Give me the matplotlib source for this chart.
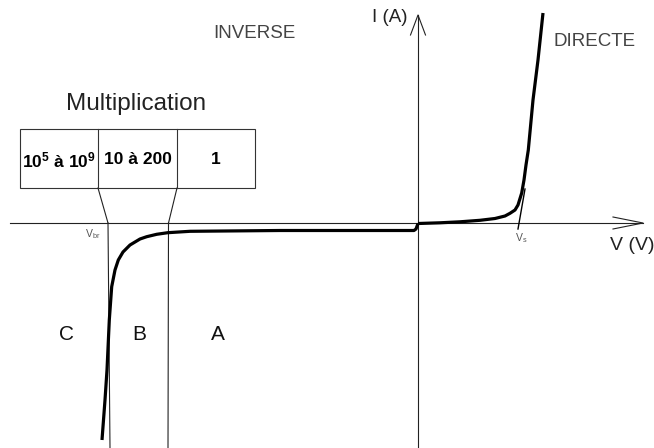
import matplotlib
matplotlib.use("Agg")
import matplotlib.pyplot as plt
from matplotlib.patches import Rectangle

plt.rcParams["font.family"] = ["Liberation Sans", "DejaVu Sans"]
plt.rcParams["mathtext.fontset"] = "custom"
plt.rcParams["mathtext.rm"] = "Liberation Sans"
plt.rcParams["mathtext.it"] = "Liberation Sans"
plt.rcParams["mathtext.bf"] = "Liberation Sans:bold"

inv_x = [102, 105, 107, 109.3, 111.7, 115, 118.3, 123, 130, 140, 146.7, 156.7, 167.7,
         190, 280, 414, 416, 418]
inv_y = [440, 400, 370, 320, 286.7, 270, 260, 252, 245, 239, 236.7, 234.3, 232.7,
         231.3, 230.5, 230.5, 229, 223.5]
dir_x = [418, 440, 460, 480, 495, 505, 510, 515, 518, 521.7, 524, 526, 528.3, 533, 538, 543]
dir_y = [223.5, 222.8, 221.8, 220.3, 218.5, 216, 213.3, 210, 205, 193, 180, 165, 150,
         100, 60, 13]

# tangente pour V_s
vs_x = [518, 525]
vs_y = [229, 189]

# tableau des facteurs de multiplication
cell_edges = [20, 98, 177, 255]
cell_labels = [r"10$^{\mathbf{5}}$ à 10$^{\mathbf{9}}$", "10 à 200", "1"]
box_top, box_bottom = 129, 188

# limites des zones C / B / A
zone_top_x = [98, 177]
zone_axis_x = [108, 168.5]
zone_bottom_x = [110, 168]
zone_labels = ["C", "B", "A"]
zone_label_x = [67, 139, 218]

axis_y = 223
axis_x = 418

fig = plt.figure(figsize=(6.54, 4.48), dpi=100)
ax = fig.add_axes([0, 0, 1, 1])
ax.set_xlim(0, 654)
ax.set_ylim(448, 0)
ax.axis("off")

thin = dict(color="#222222", lw=0.8)

# axes
ax.plot([10, 643], [axis_y, axis_y], **thin)
ax.plot([613, 643, 613], [217, axis_y, 229], **thin)
ax.plot([axis_x, axis_x], [448, 15], **thin)
ax.plot([410.5, axis_x, 425.5], [35, 15, 35], **thin)

# zones
for xt, xa, xb in zip(zone_top_x, zone_axis_x, zone_bottom_x):
    ax.plot([xt, xa], [box_bottom, axis_y], **thin)
    ax.plot([xa, xb], [axis_y, 448], **thin)

# courbe
ax.plot(inv_x, inv_y, color="black", lw=2.3, solid_capstyle="butt", solid_joinstyle="round")
ax.plot(dir_x, dir_y, color="black", lw=2.3, solid_capstyle="butt", solid_joinstyle="round")
ax.plot(vs_x, vs_y, color="black", lw=1.0)

# tableau
ax.add_patch(Rectangle((cell_edges[0], box_top), cell_edges[-1] - cell_edges[0],
                       box_bottom - box_top, fill=False, ec="#333333", lw=0.8))
for xe in cell_edges[1:-1]:
    ax.plot([xe, xe], [box_top, box_bottom], color="#333333", lw=0.8)
for i, lab in enumerate(cell_labels):
    xc = (cell_edges[i] + cell_edges[i + 1]) / 2
    ax.text(xc, 160, lab, ha="center", va="center", fontsize=12.5, fontweight="bold")

ax.text(136, 104, "Multiplication", ha="center", va="center", fontsize=17.5, color="#222222")
ax.text(254, 34, "INVERSE", ha="center", va="center", fontsize=13.5, color="#444444")
ax.text(595, 42, "DIRECTE", ha="center", va="center", fontsize=13.5, color="#444444")
ax.text(390, 18, "I (A)", ha="center", va="center", fontsize=13.5, color="#222222")
ax.text(610, 245, "V (V)", ha="left", va="center", fontsize=14, color="#222222")
ax.text(93, 234, r"V$_{\mathrm{br}}$", ha="center", va="center", fontsize=7.5, color="#555555")
ax.text(521, 238, r"V$_{\mathrm{s}}$", ha="center", va="center", fontsize=7.5, color="#555555")

for lab, xl in zip(zone_labels, zone_label_x):
    ax.text(xl, 335, lab, ha="center", va="center", fontsize=15, color="#111111")

fig.savefig("out.png", dpi=100)
